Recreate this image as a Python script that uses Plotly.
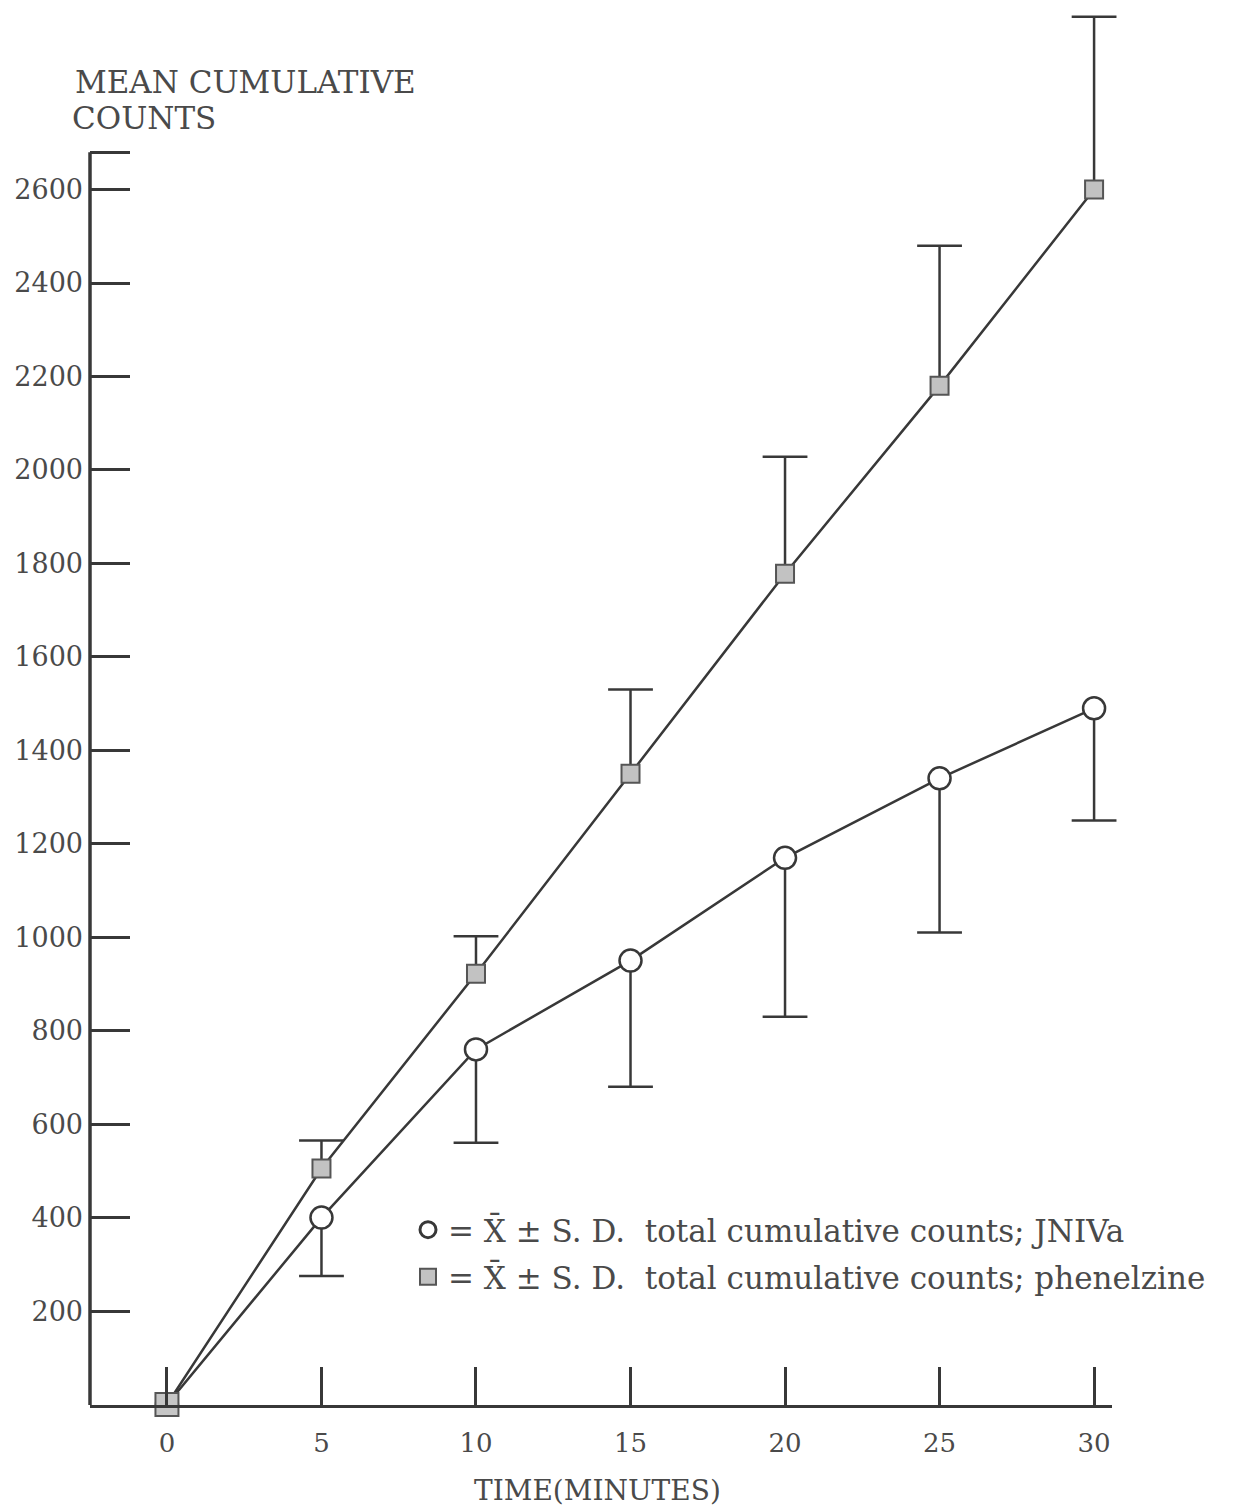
import plotly.graph_objects as go

# ---- data ----
time_min = [0, 5, 10, 15, 20, 25, 30]
jniva_mean = [0, 400, 760, 950, 1170, 1340, 1490]
jniva_sd = [0, 125, 200, 270, 340, 330, 240]
phen_mean = [0, 505, 922, 1350, 1778, 2180, 2600]
phen_sd = [0, 60, 80, 180, 250, 300, 370]
y_tick_vals = [200, 400, 600, 800, 1000, 1200, 1400, 1600, 1800, 2000, 2200, 2400, 2600, 2680]
y_tick_text = ["200", "400", "600", "800", "1000", "1200", "1400", "1600", "1800", "2000",
               "2200", "2400", "2600", ""]
x_tick_vals = [0, 5, 10, 15, 20, 25, 30]
y_axis_top = 2680

INK = "#383838"
TXT = "#4a4a4a"
FONT = "DejaVu Serif"


def bar_segments(xs, ys, ends):
    """vertical error-bar stems as one line trace with gaps"""
    bx, by = [], []
    for x, y, e in zip(xs, ys, ends):
        if e == y:
            continue
        bx += [x, x, None]
        by += [y, e, None]
    return bx, by


jniva_low = [m - s for m, s in zip(jniva_mean, jniva_sd)]
phen_high = [m + s for m, s in zip(phen_mean, phen_sd)]

fig = go.Figure()

# error stems + caps
for ys, ends in ((jniva_mean, jniva_low), (phen_mean, phen_high)):
    bx, by = bar_segments(time_min, ys, ends)
    fig.add_trace(go.Scatter(x=bx, y=by, mode="lines", showlegend=False,
                             line=dict(color=INK, width=2.5), hoverinfo="skip"))
    cx = [x for x, y, e in zip(time_min, ys, ends) if e != y]
    cy = [e for y, e in zip(ys, ends) if e != y]
    fig.add_trace(go.Scatter(x=cx, y=cy, mode="markers", showlegend=False, hoverinfo="skip",
                             cliponaxis=False,
                             marker=dict(symbol="line-ew-open", size=32, color=INK,
                                         line=dict(color=INK, width=2.5))))

fig.add_trace(go.Scatter(
    x=time_min, y=phen_mean, mode="lines+markers", showlegend=False, cliponaxis=False,
    line=dict(color=INK, width=2.5),
    marker=dict(symbol="square", size=18, color="#c2c2c2", line=dict(color="#555", width=2)),
))
fig.add_trace(go.Scatter(
    x=time_min, y=jniva_mean, mode="lines+markers", showlegend=False, cliponaxis=False,
    line=dict(color=INK, width=2.5),
    marker=dict(symbol="circle", size=22, color="white", line=dict(color=INK, width=2.5)),
))
# phenelzine point at 0 drawn on top (covers the coincident circle)
fig.add_trace(go.Scatter(
    x=time_min[:1], y=phen_mean[:1], mode="markers", showlegend=False, cliponaxis=False,
    marker=dict(symbol="square", size=23, color="#c6c6c6", line=dict(color="#555", width=2)),
))

# legend keys
fig.add_trace(go.Scatter(
    x=[None], y=[None], mode="markers", legend="legend",
    name="= X\u0304 \u00b1 S. D.\u00a0 total cumulative counts; JNIVa",
    marker=dict(symbol="circle", size=20, color="white", line=dict(color=INK, width=3)),
))
fig.add_trace(go.Scatter(
    x=[None], y=[None], mode="markers", legend="legend2",
    name="= X\u0304 \u00b1 S. D.\u00a0 total cumulative counts; phenelzine",
    marker=dict(symbol="square", size=18, color="#c2c2c2", line=dict(color="#555", width=2)),
))

L, R, T, B = 90, 121, 5, 105
W, H = 1233, 1510
pw, ph = W - L - R, H - T - B


def px_y(p):
    return (H - B - p) / ph


def px_x(p):
    return (p - L) / pw


fig.add_shape(type="line", xref="paper", yref="y", x0=0, x1=0, y0=-1, y1=y_axis_top,
              line=dict(color=INK, width=3.5))

fig.add_annotation(text="MEAN CUMULATIVE", xref="paper", yref="paper", x=px_x(73), y=px_y(82),
                   xanchor="left", yanchor="middle", showarrow=False,
                   font=dict(family=FONT, size=31, color=TXT))
fig.add_annotation(text="COUNTS", xref="paper", yref="paper", x=px_x(70), y=px_y(118),
                   xanchor="left", yanchor="middle", showarrow=False,
                   font=dict(family=FONT, size=31, color=TXT))
fig.add_annotation(text="TIME(MINUTES)", xref="paper", yref="paper", x=px_x(597), y=px_y(1490),
                   xanchor="center", yanchor="middle", showarrow=False,
                   font=dict(family=FONT, size=28, color=TXT))

fig.update_layout(
    width=W, height=H,
    margin=dict(l=L, r=R, t=T, b=B),
    paper_bgcolor="white", plot_bgcolor="white",
    font=dict(family=FONT, size=27, color=TXT),
    legend=dict(x=px_x(408), y=px_y(1230), xanchor="left", yanchor="middle",
                bgcolor="rgba(0,0,0,0)", font=dict(family=FONT, size=31, color=TXT)),
    legend2=dict(x=px_x(408), y=px_y(1277), xanchor="left", yanchor="middle",
                 bgcolor="rgba(0,0,0,0)", font=dict(family=FONT, size=31, color=TXT)),
    xaxis=dict(range=[-2.49, 30.58], showgrid=False, zeroline=False,
               showline=True, linecolor=INK, linewidth=3,
               ticks="inside", ticklen=38, tickwidth=2.5, tickcolor=INK,
               tickvals=x_tick_vals, ticklabelstandoff=13,
               tickfont=dict(family=FONT, size=26, color=TXT)),
    yaxis=dict(range=[-1, 2995], showgrid=False, zeroline=False, showline=False,
               ticks="inside", ticklen=40, tickwidth=2.5, tickcolor=INK,
               tickvals=y_tick_vals, ticktext=y_tick_text, ticklabelstandoff=6,
               tickfont=dict(family=FONT, size=27, color=TXT)),
)

fig.write_html("out.html")
